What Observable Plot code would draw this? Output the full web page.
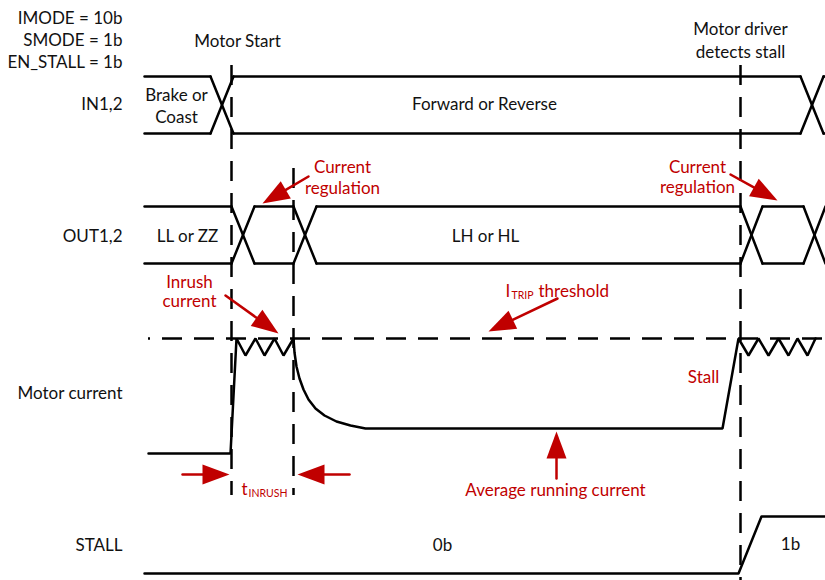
<!DOCTYPE html>
<html>
<head>
<meta charset="utf-8">
<script src="https://cdn.jsdelivr.net/npm/d3@7"></script>
<script src="https://cdn.jsdelivr.net/npm/@observablehq/plot@0.6"></script>
<style>
  html, body { margin: 0; padding: 0; background: #fff; }
  #chart svg { display: block; }
</style>
</head>
<body>
<div id="chart"></div>
<script>
// ---- Data (time axis t, vertical level v in diagram units) ----
// Bus-style signals: high/low rails and transition windows [start, end]
const inBus  = {start: 144, end: 825, hi: 76,  lo: 133, transitions: [[210, 233], [800, 823]]};
const outBus = {start: 144, end: 825, hi: 206, lo: 263, transitions: [[231, 254], [293, 316], [740, 762], [803, 825]]};

// Motor current waveform
const currentWave = [
  [148,453],[230,453],[236,338],[245,355],[255,338],[264,355],[274,338],[283,355],[293,338],
  [294,352],[296,366],[299,378],[303,389],[308,399],[315,408],[324,415],[336,421],[350,425],[365,428],
  [722,428],[738,338],[748,355],[758,338],[768,355],[778,338],[788,355],[797,338],[807,355],[815,338]
];
// ITRIP threshold level
const threshold = {t0: 148, t1: 825, v: 338};

// STALL signal
const stallWave = [[144,573],[738,573],[761,516],[825,516]];

// Event markers (dashed verticals)
const events = [
  {name: "Motor Start", t: 231, v0: 65, v1: 495},
  {name: "tINRUSH end", t: 293, v0: 168, v1: 495},
  {name: "Stall detect", t: 740, v0: 65, v1: 580}
];

// Settings and row names (right-aligned)
const rowLabels = [
  {text: "IMODE = 10b", t: 122, v: 18},
  {text: "SMODE = 1b", t: 122, v: 40},
  {text: "EN_STALL = 1b", t: 122, v: 62},
  {text: "IN1,2", t: 122, v: 104},
  {text: "OUT1,2", t: 122, v: 236},
  {text: "Motor current", t: 122, v: 393},
  {text: "STALL", t: 122, v: 545}
];
// Centered black labels
const stateLabels = [
  {text: "Motor Start", t: 237, v: 41},
  {text: "Motor driver", t: 740, v: 29},
  {text: "detects stall", t: 740, v: 52},
  {text: "Brake or", t: 176, v: 95},
  {text: "Coast", t: 176, v: 117},
  {text: "Forward or Reverse", t: 484, v: 104},
  {text: "LL or ZZ", t: 187, v: 236},
  {text: "LH or HL", t: 485, v: 236},
  {text: "0b", t: 442, v: 545},
  {text: "1b", t: 790, v: 544}
];

// Red annotation labels (centered)
const noteLabels = [
  {text: "Current", t: 342, v: 167},
  {text: "regulation", t: 342, v: 188},
  {text: "Current", t: 697, v: 167},
  {text: "regulation", t: 697, v: 187},
  {text: "Inrush", t: 189, v: 282},
  {text: "current", t: 189, v: 301},
  {text: "Stall", t: 703, v: 377},
  {text: "Average running current", t: 555, v: 490}
];
// Red labels built from pieces (start-aligned), with subscripts
const notePieces = [
  {text: "I", t: 505, v: 291},
  {text: "threshold", t: 538, v: 291},
  {text: "t", t: 241, v: 489}
];
const noteSubs = [
  {text: "TRIP", t: 511, v: 295},
  {text: "INRUSH", t: 248, v: 493}
];

// Annotation arrows: tail -> tip
const arrows = [
  {id: "reg1", t1: 308, v1: 176, t2: 262, v2: 203},
  {id: "reg2", t1: 730, v1: 174, t2: 777, v2: 200},
  {id: "inrush", t1: 225, v1: 295, t2: 278, v2: 333},
  {id: "itrip", t1: 557, v1: 298, t2: 488, v2: 331},
  {id: "avg", t1: 556, v1: 478, t2: 556, v2: 431},
  {id: "tinL", t1: 182, v1: 474, t2: 229, v2: 474},
  {id: "tinR", t1: 349, v1: 474, t2: 297, v2: 474}
];

// ---- Derived geometry ----
function busSegments(bus, id) {
  const segs = [];
  let cur = bus.start;
  bus.transitions.forEach(([a, b], i) => {
    segs.push({id: id + "hi" + i, pts: [[cur, bus.hi], [a, bus.hi]]});
    segs.push({id: id + "lo" + i, pts: [[cur, bus.lo], [a, bus.lo]]});
    segs.push({id: id + "x1" + i, pts: [[a, bus.hi], [b, bus.lo]]});
    segs.push({id: id + "x2" + i, pts: [[a, bus.lo], [b, bus.hi]]});
    cur = b;
  });
  if (cur < bus.end) {
    segs.push({id: id + "hiE", pts: [[cur, bus.hi], [bus.end, bus.hi]]});
    segs.push({id: id + "loE", pts: [[cur, bus.lo], [bus.end, bus.lo]]});
  }
  return segs.flatMap(s => s.pts.map(([t, v]) => ({id: s.id, t, v})));
}
const busPts = [...busSegments(inBus, "in"), ...busSegments(outBus, "out")];
const currentPts = currentWave.map(([t, v]) => ({t, v}));
const stallPts = stallWave.map(([t, v]) => ({t, v}));

const HEAD_L = 27, HEAD_W = 10;
const shafts = [], heads = [];
arrows.forEach(a => {
  const dx = a.t2 - a.t1, dy = a.v2 - a.v1, len = Math.hypot(dx, dy);
  const ux = dx / len, uy = dy / len, nx = -uy, ny = ux;
  const bx = a.t2 - ux * HEAD_L, by = a.v2 - uy * HEAD_L;
  shafts.push({id: a.id, t: a.t1, v: a.v1}, {id: a.id, t: bx + ux * 2, v: by + uy * 2});
  heads.push({id: a.id, t: a.t2, v: a.v2},
             {id: a.id, t: bx + nx * HEAD_W, v: by + ny * HEAD_W},
             {id: a.id, t: bx - nx * HEAD_W, v: by - ny * HEAD_W});
});

const RED = "#c00000";
const INK = "#111";
const FONT = "Lato, 'Open Sans', sans-serif";
const FS = 17;
const FS_SUB = 10.5;

const chart = Plot.plot({
  width: 825,
  height: 580,
  margin: 0,
  x: {domain: [0, 825], range: [0, 825], axis: null},
  y: {domain: [0, 580], range: [0, 580], axis: null},
  style: {fontFamily: FONT, background: "#fff"},
  marks: [
    Plot.ruleX(events, {x: "t", y1: "v0", y2: "v1", stroke: "#000", strokeWidth: 2.5, strokeDasharray: "20,12"}),
    Plot.ruleY([threshold], {y: "v", x1: "t0", x2: "t1", stroke: "#000", strokeWidth: 2.5, strokeDasharray: "20,12", strokeDashoffset: 18}),
    Plot.line(busPts, {x: "t", y: "v", z: "id", stroke: "#000", strokeWidth: 2.5}),
    Plot.line(currentPts, {x: "t", y: "v", stroke: "#000", strokeWidth: 2.5, strokeLinejoin: "miter"}),
    Plot.line(stallPts, {x: "t", y: "v", stroke: "#000", strokeWidth: 2.5}),
    Plot.line(shafts, {x: "t", y: "v", z: "id", stroke: RED, strokeWidth: 2.5}),
    Plot.line(heads, {x: "t", y: "v", z: "id", fill: RED, stroke: "none"}),
    Plot.text(rowLabels, {x: "t", y: "v", text: "text", textAnchor: "end", fill: INK, fontSize: FS}),
    Plot.text(stateLabels, {x: "t", y: "v", text: "text", textAnchor: "middle", fill: INK, fontSize: FS}),
    Plot.text(noteLabels, {x: "t", y: "v", text: "text", textAnchor: "middle", fill: RED, fontSize: FS}),
    Plot.text(notePieces, {x: "t", y: "v", text: "text", textAnchor: "start", fill: RED, fontSize: FS}),
    Plot.text(noteSubs, {x: "t", y: "v", text: "text", textAnchor: "start", fill: RED, fontSize: FS_SUB})
  ]
});
document.getElementById("chart").appendChild(chart);
</script>
</body>
</html>
